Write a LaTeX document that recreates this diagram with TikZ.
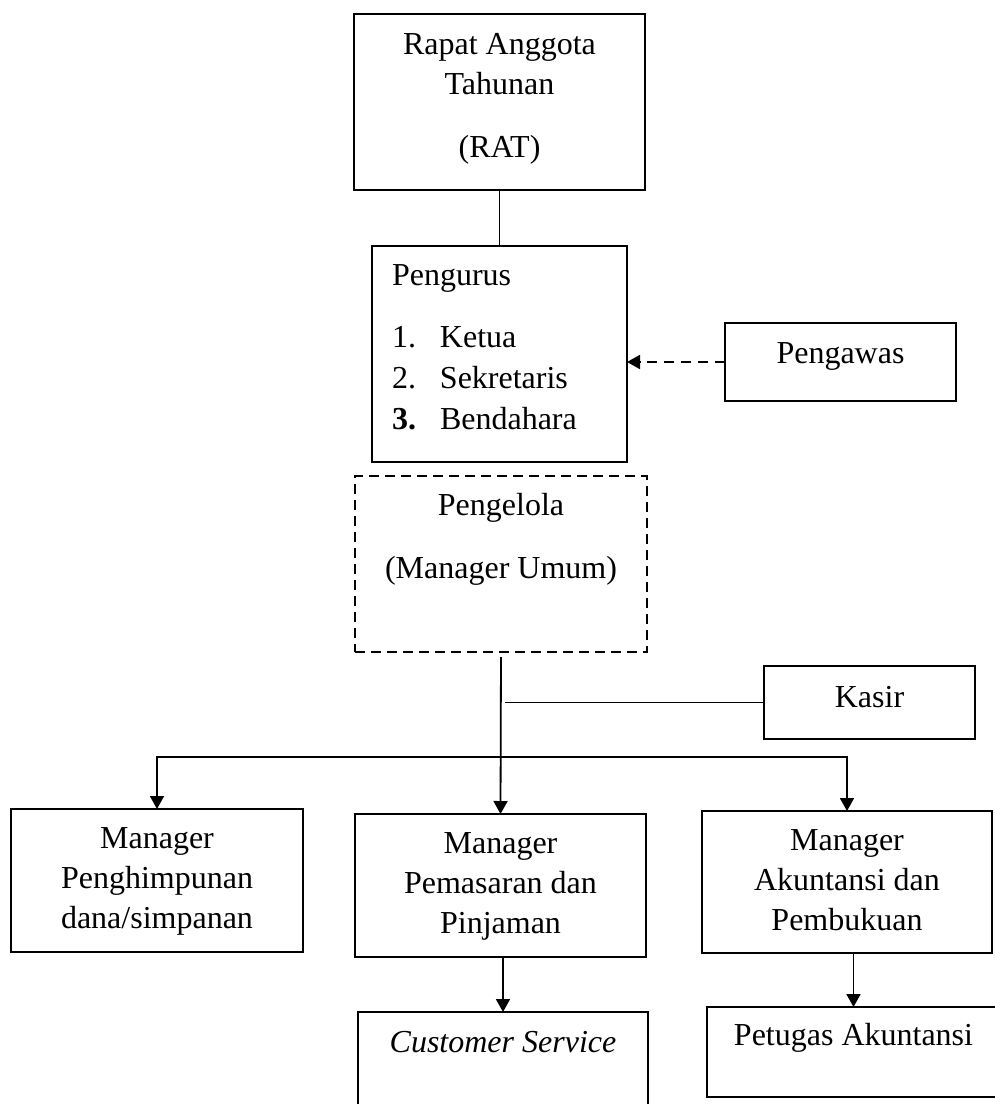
\documentclass[tikz,border=0pt]{standalone}
\usepackage{fontspec}
\setmainfont{Liberation Serif}
\usetikzlibrary{positioning, arrows.meta}
% text block pinned to the top of a box: width, height, first baseline, lines
\newcommand{\boxtext}[4]{\parbox[c][#2][t]{#1}{\centering\rule{0pt}{#3}#4}}

\begin{document}
\begin{tikzpicture}[x=0.5pt, y=-0.5pt, font=\fontsize{16pt}{20pt}\selectfont,
  unit/.style={draw, line width=1pt, inner sep=0pt, outer sep=0pt},
  link/.style={line width=0.9pt},
  arrow/.style={link, -{Triangle[length=6.5pt, width=7pt]}}]
\clip (0,0) rectangle (995,1104);
\node[unit] (rat) at (499.5,102)
  {\boxtext{145.5pt}{88pt}{20pt}{Rapat Anggota\\Tahunan\\[11.5pt](RAT)}};
\node[unit] (pengurus) at (499.5,354)
  {\parbox[c][108pt][t]{127.5pt}{\raggedright\leftskip=10pt\rule{0pt}{19.5pt}Pengurus\\[11pt]
  \makebox[24pt][l]{1.}Ketua\\[0.5pt]
  \makebox[24pt][l]{2.}Sekretaris\\[0.5pt]
  \makebox[24pt][l]{\textbf{3.}}Bendahara}};
\node[unit] (pengawas) at (840.5,362) {\boxtext{115.5pt}{39pt}{20pt}{Pengawas}};
\node[unit, line width=1.4pt, dash pattern=on 5pt off 3pt] (pengelola) at (501,564)
  {\boxtext{146pt}{88pt}{19.5pt}{Pengelola\\[11.5pt](Manager Umum)}};
\node[unit] (kasir) at (869.5,702.5) {\boxtext{105.5pt}{36.5pt}{20.5pt}{Kasir}};
\node[unit] (penghimpunan) at (157,880.5)
  {\boxtext{146pt}{71.5pt}{19.5pt}{Manager\\Penghimpunan\\dana/simpanan}};
\node[unit] (pemasaran) at (500.5,885.5)
  {\boxtext{145.5pt}{71.5pt}{19.5pt}{Manager\\Pemasaran dan\\Pinjaman}};
\node[unit] (akuntansi) at (847,882)
  {\boxtext{145pt}{71pt}{19.5pt}{Manager\\Akuntansi dan\\Pembukuan}};
\node[unit] (customer) at (503,1072)
  {\boxtext{145pt}{60pt}{20pt}{\textit{Customer Service}}};
\node[unit] (petugas) at (853.5,1052)
  {\boxtext{146.5pt}{45pt}{19pt}{Petugas Akuntansi}};
\coordinate (bus) at (501,757);

\draw[link] (rat.south) -- (pengurus.north);
\draw[arrow, dash pattern=on 5pt off 3.5pt] (pengawas.west) -- (pengawas.west -| pengurus.east);
\draw[arrow, shorten <=2.5pt] (pengelola.south) -- (pemasaran.north);
\draw[link] (kasir.west) -- ([xshift=2pt]kasir.west -| pengelola.south);
\draw[arrow] (bus) -| (penghimpunan.north);
\draw[arrow] (bus) -| (akuntansi.north);
\draw[arrow] (pemasaran.south -| customer.north) -- (customer.north);
\draw[arrow] (akuntansi.south -| petugas.north) -- (petugas.north);
\end{tikzpicture}
\end{document}
